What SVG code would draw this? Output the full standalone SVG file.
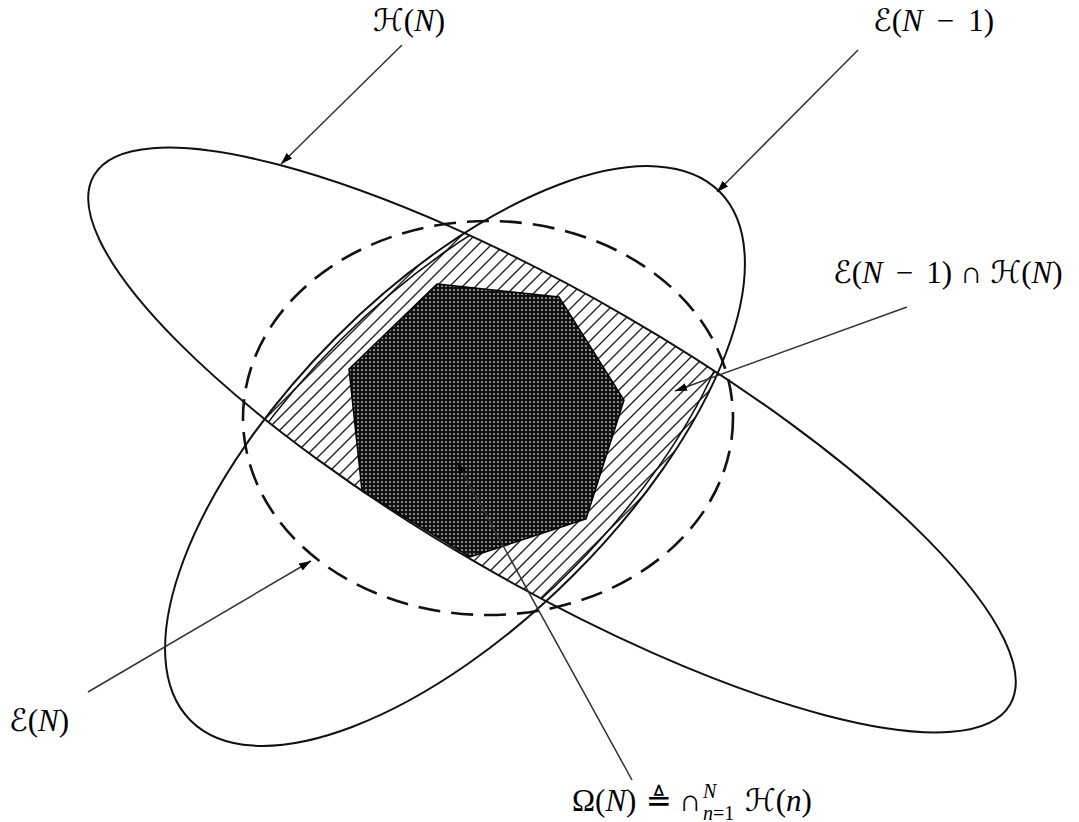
<svg xmlns="http://www.w3.org/2000/svg" width="1079" height="822" viewBox="0 0 1079 822">
<defs>
<style>
.curve{fill:none;stroke:#111;stroke-width:2}
.dash{fill:none;stroke:#111;stroke-width:2.6;stroke-dasharray:22 11}
.conn{fill:none;stroke:#333;stroke-width:1.5;marker-end:url(#arr)}
.hatch{fill:none;stroke:#222;stroke-width:1.4}
.lbl{font-family:"Liberation Serif","DejaVu Serif",serif;font-size:31px;fill:#000}
.it{font-style:italic}
.scr{font-family:"DejaVu Serif","DejaVu Sans",serif;font-style:italic}
.sym{font-family:"DejaVu Sans","Liberation Serif",sans-serif}
.small{font-size:20px}
</style>
<marker id="arr" markerUnits="userSpaceOnUse" markerWidth="14" markerHeight="10" refX="12" refY="4" orient="auto">
<path d="M0,0 L12,4 L0,8 z" fill="#000"/>
</marker>
<pattern id="dots" patternUnits="userSpaceOnUse" width="4" height="4">
<rect width="4" height="4" fill="#111"/>
<circle cx="2" cy="2" r="0.85" fill="#fff"/>
</pattern>
<clipPath id="clipH">
<ellipse cx="552" cy="440" rx="529" ry="144" transform="rotate(30 552 440)"/>
</clipPath>
<clipPath id="clipE">
<ellipse cx="455" cy="456" rx="374" ry="168" transform="rotate(-45 455 456)"/>
</clipPath>
</defs>
<rect width="1079" height="822" fill="#fff"/>

<g id="intersection">
<g clip-path="url(#clipH)">
<g clip-path="url(#clipE)">
<path class="hatch" d="M34,650L484,200M47,650L497,200M60,650L510,200M73,650L523,200M86,650L536,200M99,650L549,200M112,650L562,200M125,650L575,200M138,650L588,200M151,650L601,200M164,650L614,200M177,650L627,200M190,650L640,200M203,650L653,200M216,650L666,200M229,650L679,200M242,650L692,200M255,650L705,200M268,650L718,200M281,650L731,200M294,650L744,200M307,650L757,200M320,650L770,200M333,650L783,200M346,650L796,200M359,650L809,200M372,650L822,200M385,650L835,200M398,650L848,200M411,650L861,200M424,650L874,200M437,650L887,200M450,650L900,200M463,650L913,200M476,650L926,200M489,650L939,200"/>
</g>
<ellipse cx="455" cy="456" rx="371" ry="163" transform="rotate(-45 455 456)" fill="none" stroke="#111" stroke-width="1.6"/>
</g>
</g>

<g id="omega">
<polygon points="437,284 559,297 624,400 586,519 470,557 362,491 349,369" fill="url(#dots)" stroke="#000" stroke-width="1.5"/>
</g>

<g id="H_N">
<ellipse class="curve" cx="552" cy="440" rx="529" ry="144" transform="rotate(30 552 440)"/>
</g>

<g id="E_Nm1">
<ellipse class="curve" cx="455" cy="456" rx="374" ry="168" transform="rotate(-45 455 456)"/>
</g>

<g id="E_N">
<ellipse class="dash" cx="488" cy="418" rx="245" ry="197"/>
</g>

<g id="connectors">
<path class="conn" d="M402,45 L281,164"/>
<path class="conn" d="M858,50 L717,192"/>
<path class="conn" d="M907,307 L675,391"/>
<path class="conn" d="M88,692 L311,561"/>
<path class="conn" d="M632,780 L457,462"/>
</g>

<g id="label_H_N">
<text class="lbl" x="373" y="31"><tspan class="scr">ℋ</tspan>(<tspan class="it">N</tspan>)</text>
</g>
<g id="label_E_Nm1">
<text class="lbl" x="873" y="31"><tspan class="scr">ℰ</tspan>(<tspan class="it">N</tspan><tspan dx="14">−</tspan><tspan dx="14">1)</tspan></text>
</g>
<g id="label_intersection">
<text class="lbl" x="833" y="283"><tspan class="scr">ℰ</tspan>(<tspan class="it">N</tspan><tspan dx="13">−</tspan><tspan dx="13">1)</tspan><tspan dx="8">∩</tspan><tspan class="scr" dx="8">ℋ</tspan>(<tspan class="it">N</tspan>)</text>
</g>
<g id="label_E_N">
<text class="lbl" x="9" y="731"><tspan class="scr">ℰ</tspan>(<tspan class="it">N</tspan>)</text>
</g>
<g id="label_omega">
<text class="lbl" y="811"><tspan x="572">Ω(<tspan class="it">N</tspan>)</tspan><tspan class="sym" x="646">≜</tspan><tspan x="679">∩</tspan><tspan class="it small" x="703" y="798">N</tspan><tspan class="small" x="703" y="820"><tspan class="it">n</tspan>=1</tspan><tspan class="scr" x="745" y="811">ℋ</tspan>(<tspan class="it">n</tspan>)</text>
</g>
</svg>
